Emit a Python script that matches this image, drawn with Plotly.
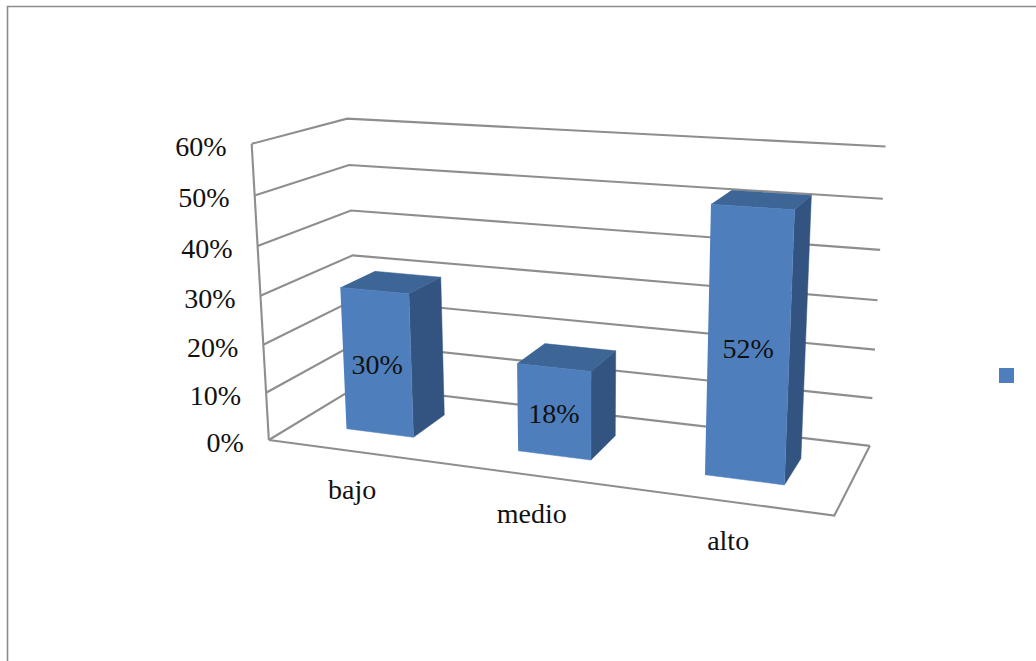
import numpy as np
import plotly.graph_objects as go

# ---- data ----
categories = ["bajo", "medio", "alto"]
values = [30, 18, 52]
data_labels = ["30%", "18%", "52%"]
tick_values = [0, 10, 20, 30, 40, 50, 60]
tick_labels = ["0%", "10%", "20%", "30%", "40%", "50%", "60%"]

# ---- styles ----
FONT = "Liberation Serif"
GRID = "#8e8e8e"
FRONT, TOP, SIDE = "#4e7fbc", "#3d6596", "#335480"
W, H = 1036, 661
BAR_FRACTION = 0.4     # bar width within its category slot
DEPTH_FRONT, DEPTH_BACK = 0.3, 0.69

# ---- perspective camera of the chart box, fitted on the box corners ----
# (across, value, depth) -> picture position
box_world = [(0, 0, 0), (1, 0, 0), (1, 0, 1), (0, 60, 0), (0, 60, 1), (1, 60, 1),
             (0, 30, 0), (0, 30, 1), (1, 30, 1), (0, 0, 1)]
box_image = [(268.3, 440.7), (834, 515.5), (870, 446), (252.3, 143.3), (346.7, 119),
             (885.7, 146.7), (260.7, 295.7), (352, 255.7), (877.5, 300), (359, 385)]


def fit_camera(world, image):
    rows, rhs = [], []
    for (a, b, c), (x, y) in zip(world, image):
        rows.append([a, b, c, 1, 0, 0, 0, 0, -x * a, -x * b, -x * c])
        rhs.append(x)
        rows.append([0, 0, 0, 0, a, b, c, 1, -y * a, -y * b, -y * c])
        rhs.append(y)
    sol = np.linalg.lstsq(np.array(rows, float), np.array(rhs, float), rcond=None)[0]
    return np.append(sol, 1.0).reshape(3, 4)


CAMERA = fit_camera(box_world, box_image)


def project(a, b, c):
    p = CAMERA @ np.array([a, b, c, 1.0])
    return float(p[0] / p[2]), float(p[1] / p[2])


fig = go.Figure()


def line(points, color=GRID, width=2.1):
    pts = [project(*p) for p in points]
    fig.add_trace(go.Scatter(x=[p[0] for p in pts], y=[p[1] for p in pts], mode="lines",
                             line=dict(color=color, width=width), hoverinfo="skip"))


def face(points, color):
    pts = [project(*p) for p in points]
    fig.add_trace(go.Scatter(x=[p[0] for p in pts], y=[p[1] for p in pts], mode="lines",
                             fill="toself", fillcolor=color, line=dict(color=color, width=0.5),
                             hoverinfo="skip"))


def text(xs, ys, labels, pos):
    fig.add_trace(go.Scatter(x=xs, y=ys, text=labels, mode="text", textposition=pos,
                             textfont=dict(family=FONT, size=28, color="#111111"),
                             hoverinfo="skip"))


# page frame seen at the top-left of the picture
fig.add_trace(go.Scatter(x=[7.5, 7.5, W], y=[H, 6.5, 6.5], mode="lines",
                         line=dict(color="#8c8c8c", width=1.6), hoverinfo="skip"))

# walls and floor
for t in tick_values:
    line([(0, t, 0), (0, t, 1), (1, t, 1)])
line([(0, 0, 0), (0, 60, 0)])
line([(0, 0, 0), (1, 0, 0), (1, 0, 1)])

# bars
for i, v in enumerate(values):
    left = (i + 0.5 - BAR_FRACTION / 2) / len(values)
    right = (i + 0.5 + BAR_FRACTION / 2) / len(values)
    f, b = DEPTH_FRONT, DEPTH_BACK
    face([(right, 0, f), (right, 0, b), (right, v, b), (right, v, f)], SIDE)
    face([(left, v, f), (right, v, f), (right, v, b), (left, v, b)], TOP)
    face([(left, 0, f), (right, 0, f), (right, v, f), (left, v, f)], FRONT)

# value axis labels
pts = [project(0, t, 0) for t in tick_values]
text([p[0] - 25 for p in pts], [p[1] + 5 for p in pts], tick_labels, "middle left")

# category labels
pts = [project((i + 0.5) / len(categories), 0, 0) for i in range(len(categories))]
text([p[0] - 1 for p in pts], [p[1] + 41 for p in pts], categories, "middle center")

# data labels
pts = [project((i + 0.5) / len(values), v / 2, DEPTH_FRONT) for i, v in enumerate(values)]
text([p[0] for p in pts], [p[1] + 4 for p in pts], data_labels, "middle center")

# legend key (the legend has no visible text)
fig.add_trace(go.Scatter(x=[1006.5], y=[375.5], mode="markers",
                         marker=dict(symbol="square", size=15, color=FRONT), hoverinfo="skip"))

fig.update_layout(width=W, height=H, margin=dict(l=0, r=0, t=0, b=0), showlegend=False,
                  paper_bgcolor="white", plot_bgcolor="white",
                  xaxis=dict(range=[0, W], visible=False, fixedrange=True),
                  yaxis=dict(range=[H, 0], visible=False, fixedrange=True))

fig.write_html("out.html", config={"displayModeBar": False},
               post_script="document.body.style.margin='0';document.documentElement.style.overflow='hidden';")
